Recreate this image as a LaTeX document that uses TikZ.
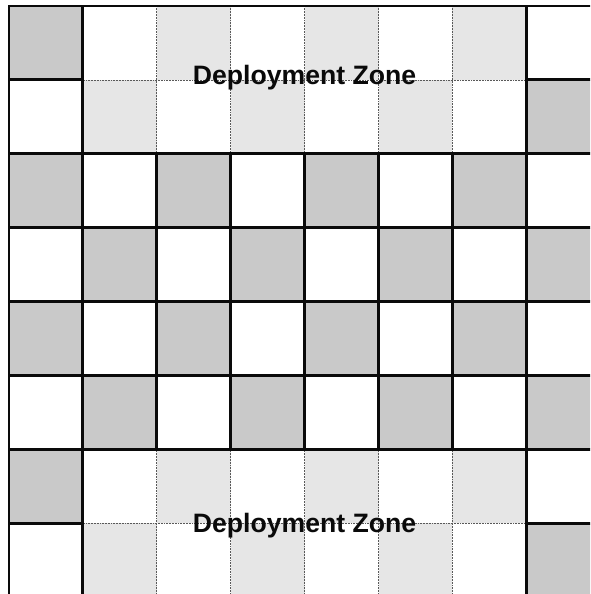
\documentclass[tikz,border=0pt]{standalone}
\usepackage{fontspec}
\setmainfont{Liberation Sans}
\usetikzlibrary{positioning}
\definecolor{bdDark}{HTML}{C9C9C9}
\definecolor{bdZone}{HTML}{E6E6E6}
\definecolor{bdInk}{HTML}{0A0A0A}
\tikzset{
  % Shaded square of the board
  darksq/.style={fill=bdDark},
  % Shaded square inside a deployment zone
  zonesq/.style={fill=bdZone},
  % Heavy board line
  boardln/.style={draw=bdInk,line width=2.2pt,line cap=rect},
  % Light dotted line inside a zone
  zoneln/.style={draw=black!65,line width=0.5pt,dash pattern=on 0.6pt off 0.6pt},
  % Zone caption
  zonelbl/.style={anchor=base,inner sep=0pt,text=bdInk,
    font=\fontsize{20.5}{24}\selectfont\bfseries},
}
\begin{document}
\begin{tikzpicture}[x=2cm,y=2cm]
  \clip (-0.122,0.081) rectangle (7.862,-7.957);

  % squares
  \foreach \r in {0,...,7}{
    \foreach \c in {0,...,7}{
      \pgfmathtruncatemacro{\shade}{mod(\r+\c,2)}
      \pgfmathtruncatemacro{\inzone}{(\c>0)&&(\c<7)&&((\r<2)||(\r>5))}
      \ifnum\shade=0
        \ifnum\inzone=1
          \fill[zonesq] (\c,-\r) rectangle ++(1,-1);
        \else
          \fill[darksq] (\c,-\r) rectangle ++(1,-1);
        \fi
      \fi
    }
  }

  % dotted lines inside the two zones
  \foreach \y in {0,6}{
    \foreach \x in {2,...,6}
      \draw[zoneln] (\x,-\y) -- (\x,-\y-2);
    \draw[zoneln] (1,-\y-1) -- (7,-\y-1);
  }

  % heavy lines
  \foreach \x in {0,...,7}
    \draw[boardln] (\x,-2) -- (\x,-6);
  \foreach \x in {0,1,7}
    \draw[boardln] (\x,0) -- (\x,-8.2);
  \foreach \y in {0,2,3,4,5,6}
    \draw[boardln] (0,-\y) -- (8.2,-\y);
  \foreach \y in {1,7}{
    \draw[boardln] (0,-\y) -- (1,-\y);
    \draw[boardln] (7,-\y) -- (8.2,-\y);
  }

  \node[zonelbl] (topzone) at (4,-1.056) {Deployment Zone};
  \node[zonelbl] (botzone) at (4,-7.12) {Deployment Zone};
\end{tikzpicture}
\end{document}
